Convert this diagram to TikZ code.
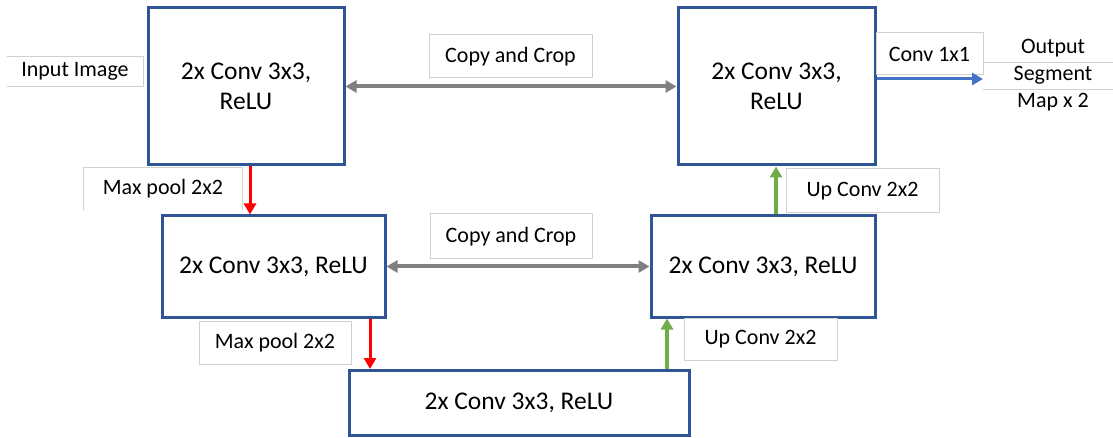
\documentclass[tikz,border=0pt]{standalone}
\usepackage{fontspec}
\setmainfont{Carlito}
\usetikzlibrary{arrows.meta}
\definecolor{boxblue}{HTML}{2F5597}
\definecolor{arrgray}{HTML}{808080}
\definecolor{arrred}{HTML}{FF0000}
\definecolor{arrgreen}{HTML}{70AD47}
\definecolor{arrblue}{HTML}{4472C4}
\definecolor{lblgray}{HTML}{D0D0D0}
\tikzset{
  convbox/.style={draw=boxblue, line width=3pt, fill=white, inner sep=0pt,
    align=center, font=\fontsize{25.5}{30}\selectfont},
  lbl/.style={fill=white, inner sep=0pt, align=center,
    font=\fontsize{22}{26}\selectfont},
  lblbox/.style={lbl, draw=lblgray, line width=1pt},
  lblline/.style={draw=lblgray, line width=1pt},
  tip/.style={-{Triangle[length=11pt,width=12pt]}},
  copyarr/.style={draw=arrgray, line width=4pt,
    {Triangle[length=11pt,width=12pt]}-{Triangle[length=11pt,width=12pt]}},
  poolarr/.style={tip, draw=arrred, line width=3pt},
  uparr/.style={tip, draw=arrgreen, line width=3.5pt},
  outarr/.style={tip, draw=arrblue, line width=3pt},
}
\begin{document}
\begin{tikzpicture}[x=1pt, y=-1pt]
\useasboundingbox[fill=white] (0,0) rectangle (1113,438);

% main blocks
\node[convbox, minimum width=196pt, minimum height=157pt] (A) at (246,86.5) {2x Conv 3x3,\\ReLU};
\node[convbox, minimum width=197pt, minimum height=157pt] (C) at (776.5,86.5) {2x Conv 3x3,\\ReLU};
\node[convbox, minimum width=223pt, minimum height=101pt] (B) at (273.5,266.5) {2x Conv 3x3, ReLU};
\node[convbox, minimum width=224pt, minimum height=101pt] (D) at (763,266.5) {2x Conv 3x3, ReLU};
\node[convbox, minimum width=340pt, minimum height=65pt] (E) at (519,403) {2x Conv 3x3, ReLU};

% labels
\node[lbl, minimum width=136pt, minimum height=29pt] (inp) at (75,71.5) {Input Image};
\draw[lblline] (inp.north west) -- (inp.north east) -- (inp.south east) -- (inp.south west);
\node[lblbox, minimum width=163pt, minimum height=43pt] (cc1) at (510.5,56.5) {Copy and Crop};
\node[lbl, minimum width=158pt, minimum height=42pt] (mp1) at (163,189) {Max pool 2x2};
\draw[lblline] (mp1.south west) -- (mp1.north west) -- (mp1.north east) -- (mp1.south east);
\node[lblbox, minimum width=162pt, minimum height=45pt] (cc2) at (511,236.5) {Copy and Crop};
\node[lblbox, minimum width=153pt, minimum height=44pt] (uc1) at (862.5,191) {Up Conv 2x2};
\node[lblbox, minimum width=152pt, minimum height=43pt] (mp2) at (275,342.5) {Max pool 2x2};
\node[lblbox, minimum width=153pt, minimum height=42pt] (uc2) at (760.5,339) {Up Conv 2x2};
\node[lblbox, minimum width=107pt, minimum height=42pt] (c11) at (929.5,54) {Conv 1x1};

% output text
\node[lbl, fill=none, minimum width=120pt, minimum height=27pt] (o1) at (1053,48.5) {Output};
\node[lbl, fill=none, minimum width=120pt, minimum height=27pt] (o2) at (1053,75.5) {Segment};
\node[lbl, fill=none, minimum width=120pt, minimum height=27pt] (o3) at (1053,102.5) {Map x 2};
\coordinate (outL) at (983,79);
\draw[lblline] (o1.south -| outL) -- (o1.south east);
\draw[lblline] (o2.south -| outL) -- (o2.south east);

% connectors
\coordinate (p1) at (250,0);
\coordinate (p2) at (370,0);
\coordinate (g1) at (667,0);
\coordinate (g2) at (776,0);
\draw[copyarr] (A.east) -- (C.west);
\draw[copyarr] (B.east) -- (D.west);
\draw[poolarr] (A.south -| p1) -- (B.north -| p1);
\draw[poolarr] (B.south -| p2) -- (E.north -| p2);
\draw[uparr] (E.north -| g1) -- (D.south -| g1);
\draw[uparr] (D.north -| g2) -- (C.south -| g2);
\draw[outarr] (C.east |- outL) -- (outL);
\end{tikzpicture}
\end{document}
